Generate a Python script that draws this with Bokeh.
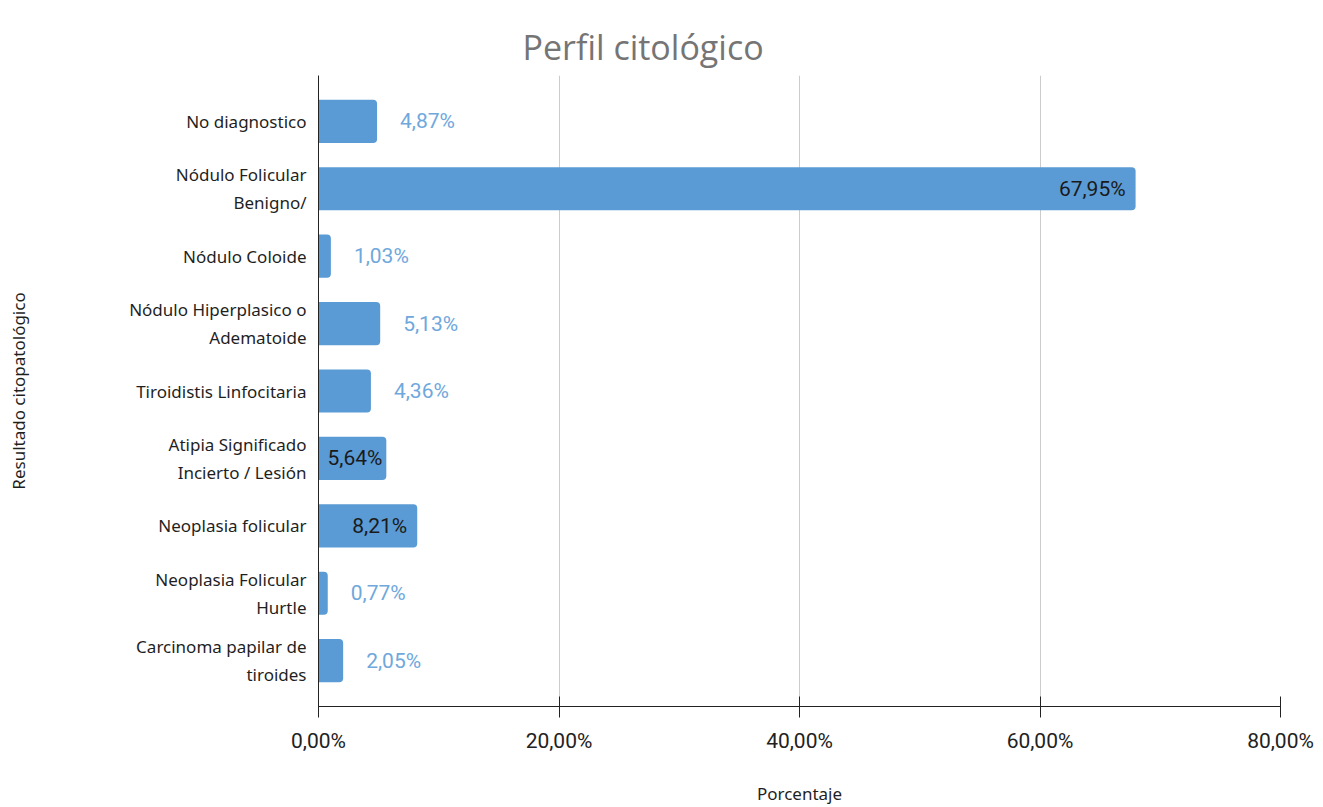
from bokeh.plotting import figure
from bokeh.models import Range1d, FixedTicker, ColumnDataSource, Title
from bokeh.core.properties import value
from bokeh.embed import file_html
from bokeh.resources import INLINE

categories = [
    "No diagnostico",
    "Nódulo Folicular\nBenigno/",
    "Nódulo Coloide",
    "Nódulo Hiperplasico o\nAdematoide",
    "Tiroidistis Linfocitaria",
    "Atipia Significado\nIncierto / Lesión",
    "Neoplasia folicular",
    "Neoplasia Folicular\nHurtle",
    "Carcinoma papilar de\ntiroides",
]
percentages = [4.87, 67.95, 1.03, 5.13, 4.36, 5.64, 8.21, 0.77, 2.05]
label_inside = [False, True, False, False, False, True, True, False, False]
x_ticks = [0, 20, 40, 60, 80]
x_tick_labels = ["0,00%", "20,00%", "40,00%", "60,00%", "80,00%"]

W, H = 1323, 807
left, right, top, bottom = 318, 43, 75, 100
frame_w = W - left - right
px_per_unit = frame_w / 80.0

ys = list(range(len(categories)))
labels = [f"{v:.2f}".replace(".", ",") + "%" for v in percentages]
text_w = 60
aligns, offsets, colors = [], [], []
for v, inside in zip(percentages, label_inside):
    if inside:
        bar_px = v * px_per_unit
        aligns.append("right")
        offsets.append(-min(10, (bar_px - text_w) / 2))
        colors.append("#1a1a1a")
    else:
        aligns.append("left")
        offsets.append(23)
        colors.append("#6fa8dc")

src = ColumnDataSource(dict(y=ys, x=percentages, label=labels, align=aligns, off=offsets, color=colors))

p = figure(width=W, height=H, output_backend="svg", toolbar_location=None,
           x_range=Range1d(0, 80), y_range=Range1d(8.68, -0.68),
           min_border_left=left, min_border_right=right, min_border_top=top, min_border_bottom=bottom,
           title=None)
p.outline_line_color = None
p.background_fill_color = "white"
p.border_fill_color = "white"

p.add_layout(Title(text="Perfil citológico", align="left", offset=204, vertical_align="top",
                   text_font="Open Sans", text_font_size="34px", text_font_style="normal",
                   text_color="#757575", standoff=8), "above")

p.hbar(y="y", right="x", left=0, height=0.64, source=src, color="#5b9bd5", line_color=None,
       border_radius=dict(top_left=0, top_right=4, bottom_right=4, bottom_left=0))
p.text(x="x", y="y", text="label", source=src, text_align="align", x_offset="off",
       text_baseline="middle", text_color="color", text_font=value("Roboto"), text_font_size="21px")

xa = p.xaxis[0]
xa.ticker = FixedTicker(ticks=x_ticks)
xa.major_label_overrides = {t: l for t, l in zip(x_ticks, x_tick_labels)}
xa.major_tick_in = 10
xa.major_tick_out = 11
xa.minor_tick_line_color = None
xa.axis_line_color = "#222222"
xa.major_tick_line_color = "#222222"
xa.major_label_text_font = "Roboto"
xa.major_label_text_font_size = "21px"
xa.major_label_text_color = "#222222"
xa.major_label_standoff = 11
xa.axis_label = "Porcentaje"
xa.axis_label_text_font = "Noto Sans"
xa.axis_label_text_font_size = "17px"
xa.axis_label_text_font_style = "normal"
xa.axis_label_text_color = "#1f1f1f"
xa.axis_label_standoff = 26

ya = p.yaxis[0]
ya.ticker = FixedTicker(ticks=ys)
ya.major_label_overrides = {i: c for i, c in zip(ys, categories)}
ya.major_tick_line_color = None
ya.minor_tick_line_color = None
ya.axis_line_color = "#222222"
ya.major_label_text_font = "Noto Sans"
ya.major_label_text_font_size = "17px"
ya.major_label_text_color = "#1f1f1f"
ya.major_label_standoff = 6
ya.axis_label = "Resultado citopatológico"
ya.axis_label_text_font = "Noto Sans"
ya.axis_label_text_font_size = "17px"
ya.axis_label_text_font_style = "normal"
ya.axis_label_text_color = "#1f1f1f"
ya.axis_label_standoff = 96

p.xgrid.ticker = FixedTicker(ticks=x_ticks)
p.xgrid.grid_line_color = "#cccccc"
p.ygrid.grid_line_color = None

open("out.html", "w").write(file_html(p, INLINE))
